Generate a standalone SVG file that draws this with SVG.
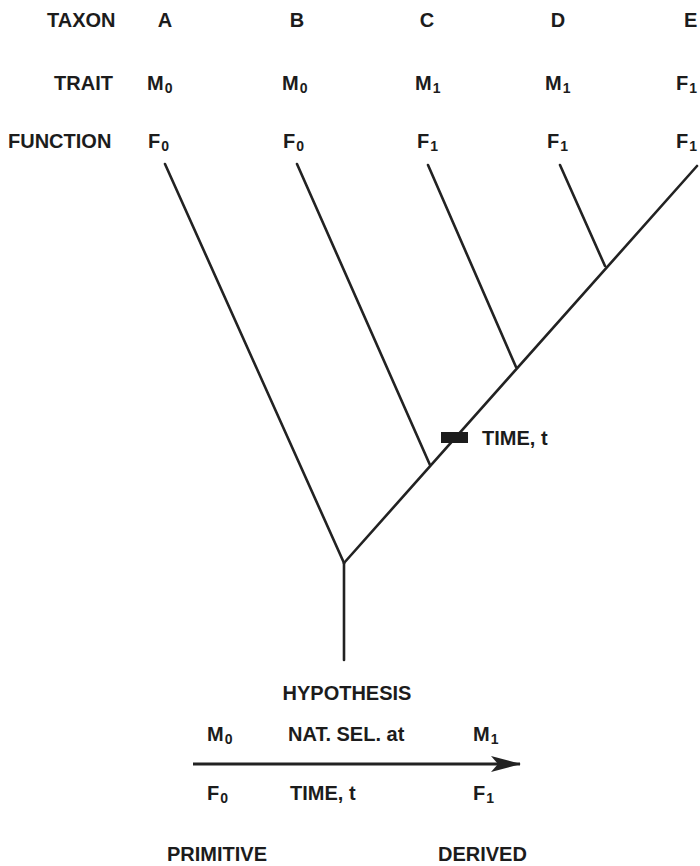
<svg xmlns="http://www.w3.org/2000/svg" width="700" height="866" viewBox="0 0 700 866">
<style>
text{font-family:"Liberation Sans",Arial,sans-serif;font-weight:bold;font-size:20px;fill:#1c1c1c}
.sub{font-size:14px}
.br{stroke:#222;stroke-width:2.6;fill:none;stroke-linecap:round}
.mid{text-anchor:middle}
.end{text-anchor:end}
</style>
<defs>
<marker id="ah" viewBox="0 0 30 16" refX="29" refY="8" markerWidth="30" markerHeight="16" markerUnits="userSpaceOnUse" orient="auto">
<path d="M30,8 L0,0 L7,8 L0,16 Z" fill="#222"/>
</marker>
</defs>
<rect width="700" height="866" fill="#fff"/>
<g id="row-headers">
<text x="47" y="27">TAXON</text>
<text x="113" y="90" class="end">TRAIT</text>
<text x="8" y="148">FUNCTION</text>
</g>
<g id="taxon-A">
<text x="165" y="27" class="mid">A</text>
<text x="147" y="90">M<tspan class="sub" dx="1" dy="3">0</tspan></text>
<text x="148" y="148">F<tspan class="sub" dx="1" dy="3">0</tspan></text>
</g>
<g id="taxon-B">
<text x="297" y="27" class="mid">B</text>
<text x="282" y="90">M<tspan class="sub" dx="1" dy="3">0</tspan></text>
<text x="283" y="148">F<tspan class="sub" dx="1" dy="3">0</tspan></text>
</g>
<g id="taxon-C">
<text x="427" y="27" class="mid">C</text>
<text x="415" y="90">M<tspan class="sub" dx="1" dy="3">1</tspan></text>
<text x="417" y="148">F<tspan class="sub" dx="1" dy="3">1</tspan></text>
</g>
<g id="taxon-D">
<text x="558" y="27" class="mid">D</text>
<text x="545" y="90">M<tspan class="sub" dx="1" dy="3">1</tspan></text>
<text x="547" y="148">F<tspan class="sub" dx="1" dy="3">1</tspan></text>
</g>
<g id="taxon-E">
<text x="684" y="27">E</text>
<text x="676" y="90">F<tspan class="sub" dx="1" dy="3">1</tspan></text>
<text x="676" y="148">F<tspan class="sub" dx="1" dy="3">1</tspan></text>
</g>
<g id="connectors">
<line class="br" x1="344" y1="660" x2="344" y2="563"/>
<line class="br" x1="165" y1="164" x2="344" y2="563"/>
<line class="br" x1="344" y1="563" x2="697" y2="166"/>
<line class="br" x1="297" y1="164" x2="430" y2="465"/>
<line class="br" x1="428" y1="165" x2="516" y2="367"/>
<line class="br" x1="560" y1="165" x2="605" y2="266"/>
</g>
<g id="time-marker">
<rect x="441" y="432" width="27" height="11" fill="#1c1c1c"/>
<text x="482" y="445">TIME, t</text>
</g>
<g id="hypothesis">
<text x="347" y="700" class="mid">HYPOTHESIS</text>
<text x="207" y="741">M<tspan class="sub" dx="1" dy="3">0</tspan></text>
<text x="288" y="741">NAT. SEL. at</text>
<text x="473" y="741">M<tspan class="sub" dx="1" dy="3">1</tspan></text>
<line x1="193" y1="764" x2="520" y2="764" stroke="#222" stroke-width="3" marker-end="url(#ah)"/>
<text x="207" y="800">F<tspan class="sub" dx="1" dy="3">0</tspan></text>
<text x="290" y="800">TIME, t</text>
<text x="473" y="800">F<tspan class="sub" dx="1" dy="3">1</tspan></text>
<text x="167" y="861">PRIMITIVE</text>
<text x="438" y="861">DERIVED</text>
</g>
</svg>
